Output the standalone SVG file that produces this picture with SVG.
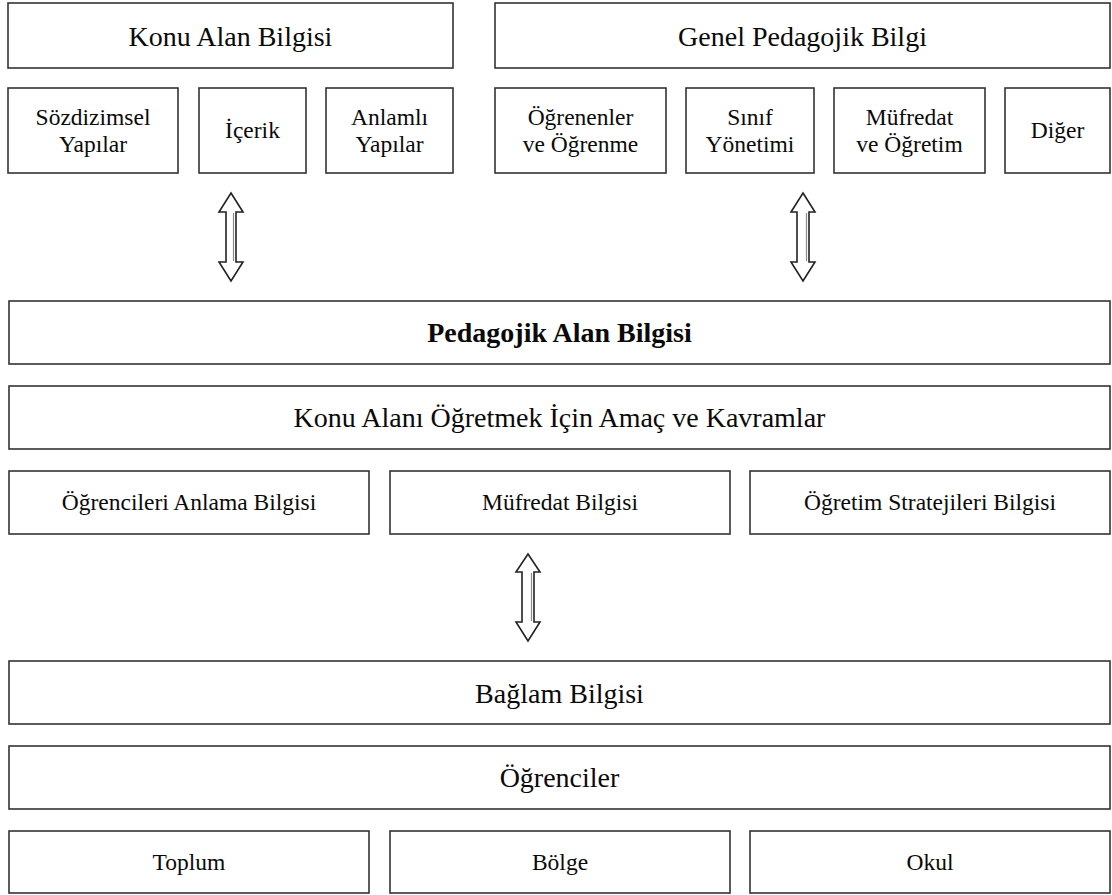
<svg xmlns="http://www.w3.org/2000/svg" width="1112" height="895" viewBox="0 0 1112 895">
  <style>
    .box { fill: #ffffff; stroke: #333333; stroke-width: 1.6; }
    .t { font-family: "Liberation Serif", "Times New Roman", serif; fill: #0a0a0a; text-anchor: middle; }
    .lg { font-size: 28px; }
    .sm { font-size: 23.5px; }
    .b { font-weight: bold; }
    .arrow { fill: #ffffff; stroke: #222222; stroke-width: 1.6; stroke-linejoin: miter; }
    .shade { stroke: #8a8a8a; stroke-width: 1.2; fill: none; }
  </style>
  <rect width="1112" height="895" fill="#ffffff"/>

  <!-- Top row: main knowledge categories -->
  <g id="konu-alan-bilgisi">
    <rect class="box" x="8" y="3" width="445" height="65"/>
    <text class="t lg" x="230.5" y="46">Konu Alan Bilgisi</text>
  </g>
  <g id="genel-pedagojik-bilgi">
    <rect class="box" x="495" y="3" width="615" height="65"/>
    <text class="t lg" x="802.5" y="46">Genel Pedagojik Bilgi</text>
  </g>

  <!-- Second row: sub-components -->
  <g id="sozdizimsel-yapilar">
    <rect class="box" x="8" y="88" width="170" height="85"/>
    <text class="t sm" x="93" y="125">Sözdizimsel</text>
    <text class="t sm" x="93" y="152">Yapılar</text>
  </g>
  <g id="icerik">
    <rect class="box" x="199" y="88" width="107" height="85"/>
    <text class="t sm" x="252.5" y="138">İçerik</text>
  </g>
  <g id="anlamli-yapilar">
    <rect class="box" x="326" y="88" width="127" height="85"/>
    <text class="t sm" x="389.5" y="125">Anlamlı</text>
    <text class="t sm" x="389.5" y="152">Yapılar</text>
  </g>
  <g id="ogrenenler">
    <rect class="box" x="495" y="88" width="171" height="85"/>
    <text class="t sm" x="580.5" y="125">Öğrenenler</text>
    <text class="t sm" x="580.5" y="152">ve Öğrenme</text>
  </g>
  <g id="sinif-yonetimi">
    <rect class="box" x="686" y="88" width="128" height="85"/>
    <text class="t sm" x="750" y="125">Sınıf</text>
    <text class="t sm" x="750" y="152">Yönetimi</text>
  </g>
  <g id="mufredat-ogretim">
    <rect class="box" x="834" y="88" width="151" height="85"/>
    <text class="t sm" x="909.5" y="125">Müfredat</text>
    <text class="t sm" x="909.5" y="152">ve Öğretim</text>
  </g>
  <g id="diger">
    <rect class="box" x="1005" y="88" width="105" height="85"/>
    <text class="t sm" x="1057.5" y="138">Diğer</text>
  </g>

  <!-- Middle band -->
  <g id="pedagojik-alan-bilgisi">
    <rect class="box" x="9" y="301" width="1101" height="63"/>
    <text class="t lg b" x="559.5" y="342">Pedagojik Alan Bilgisi</text>
  </g>
  <g id="amac-kavramlar">
    <rect class="box" x="9" y="386" width="1101" height="63"/>
    <text class="t lg" x="559.5" y="427">Konu Alanı Öğretmek İçin Amaç ve Kavramlar</text>
  </g>
  <g id="ogrencileri-anlama">
    <rect class="box" x="9" y="471" width="360" height="63"/>
    <text class="t sm" x="189" y="510">Öğrencileri Anlama Bilgisi</text>
  </g>
  <g id="mufredat-bilgisi">
    <rect class="box" x="390" y="471" width="340" height="63"/>
    <text class="t sm" x="560" y="510">Müfredat Bilgisi</text>
  </g>
  <g id="ogretim-stratejileri">
    <rect class="box" x="750" y="471" width="360" height="63"/>
    <text class="t sm" x="930" y="510">Öğretim Stratejileri Bilgisi</text>
  </g>

  <!-- Bottom band: context -->
  <g id="baglam-bilgisi">
    <rect class="box" x="9" y="661" width="1101" height="63"/>
    <text class="t lg" x="559.5" y="703">Bağlam Bilgisi</text>
  </g>
  <g id="ogrenciler">
    <rect class="box" x="9" y="746" width="1101" height="63"/>
    <text class="t lg" x="559.5" y="787">Öğrenciler</text>
  </g>
  <g id="toplum">
    <rect class="box" x="9" y="831" width="360" height="62"/>
    <text class="t sm" x="189" y="870">Toplum</text>
  </g>
  <g id="bolge">
    <rect class="box" x="390" y="831" width="340" height="62"/>
    <text class="t sm" x="560" y="870">Bölge</text>
  </g>
  <g id="okul">
    <rect class="box" x="750" y="831" width="360" height="62"/>
    <text class="t sm" x="930" y="870">Okul</text>
  </g>

  <!-- Connectors: hollow double-headed block arrows -->
  <g id="connectors">
    <polygon class="arrow" points="231,193 243,212 236,212 236,262 243,262 231,281 219,262 226,262 226,212 219,212"/>
    <line class="shade" x1="233.5" y1="213" x2="233.5" y2="261"/>
    <polygon class="arrow" points="803,193 815,212 809,212 809,262 815,262 803,281 791,262 797,262 797,212 791,212"/>
    <line class="shade" x1="806.5" y1="213" x2="806.5" y2="261"/>
    <polygon class="arrow" points="528,554 540,572 534,572 534,622 540,622 528,641 516,622 522,622 522,572 516,572"/>
    <line class="shade" x1="531.5" y1="573" x2="531.5" y2="621"/>
  </g>
</svg>
